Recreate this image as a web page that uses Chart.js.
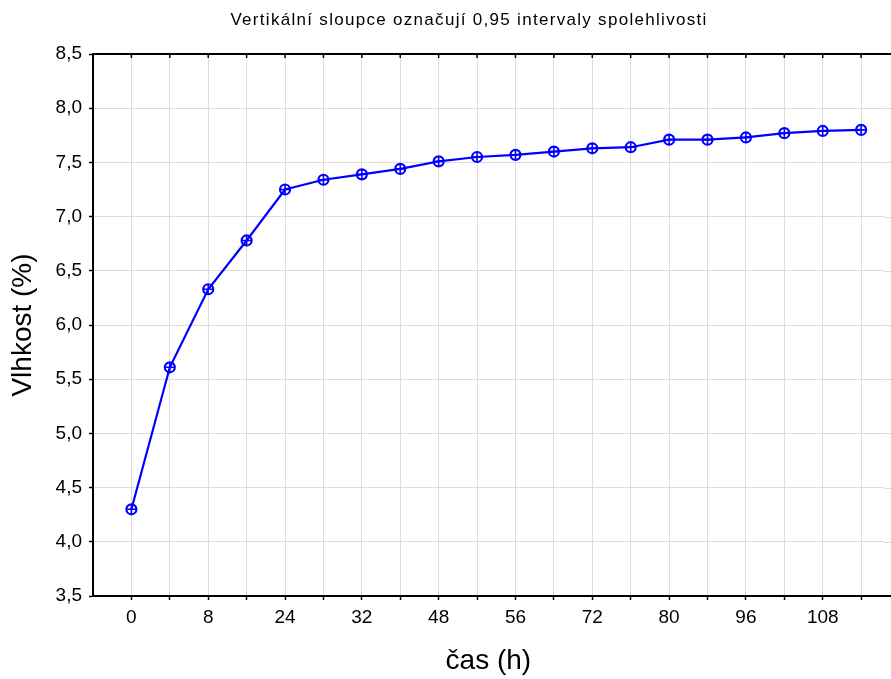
<!DOCTYPE html>
<html>
<head>
<meta charset="utf-8">
<script src="https://cdn.jsdelivr.net/npm/chart.js"></script>
<style>
  body { margin: 0; background: #fff; }
</style>
</head>
<body>
<canvas id="chart" width="891" height="679"></canvas>
<script>
  // x categories (hours), only every second one is labelled
  var hours = ['0', '4', '8', '16', '24', '28', '32', '40', '48', '52', '56', '64', '72', '76', '80', '88', '96', '104', '108', '116'];
  var shownHours = ['0', '8', '24', '32', '48', '56', '72', '80', '96', '108'];
  // mean moisture (%)
  var moisture = [4.30, 5.61, 6.33, 6.78, 7.25, 7.34, 7.39, 7.44, 7.51, 7.55, 7.57, 7.60, 7.63, 7.64, 7.71, 7.71, 7.73, 7.77, 7.79, 7.80];
  var yMin = 3.5, yMax = 8.5, yStep = 0.5;
  var titleText = 'Vertikální sloupce označují 0,95 intervaly spolehlivosti';

  var points = moisture.map(function (v, i) { return { x: i, y: v }; });

  Chart.defaults.font.family = "'Liberation Sans', Arial, sans-serif";
  Chart.defaults.color = '#000';

  // frame lines and grid run on to the right edge, top line has small ticks pointing down; spaced-out title
  var topFrame = {
    id: 'topFrame',
    beforeDatasetsDraw: function (chart) {
      var ctx = chart.ctx, area = chart.chartArea, ys = chart.scales.y;
      ctx.save();
      ctx.strokeStyle = '#dcdcdc';
      ctx.lineWidth = 1;
      ys.ticks.forEach(function (t) {
        var py = Math.round(ys.getPixelForValue(t.value)) + 0.5;
        ctx.beginPath();
        ctx.moveTo(area.right, py);
        ctx.lineTo(chart.width, py);
        ctx.stroke();
      });
      ctx.restore();
    },
    afterDatasetsDraw: function (chart) {
      var ctx = chart.ctx, area = chart.chartArea, xs = chart.scales.x;
      ctx.save();
      ctx.strokeStyle = '#000';
      ctx.lineWidth = 2;
      ctx.beginPath();
      ctx.moveTo(area.left - 1, area.top);
      ctx.lineTo(chart.width, area.top);
      ctx.moveTo(area.right - 1, area.bottom);
      ctx.lineTo(chart.width, area.bottom);
      ctx.stroke();
      ctx.lineWidth = 1.5;
      for (var i = 0; i < hours.length; i++) {
        var px = xs.getPixelForValue(i);
        ctx.beginPath();
        ctx.moveTo(px, area.top);
        ctx.lineTo(px, area.top + 4);
        ctx.stroke();
      }

      ctx.fillStyle = '#000';
      ctx.font = "17px 'Liberation Sans', Arial, sans-serif";
      ctx.letterSpacing = '1.3px';
      ctx.textAlign = 'center';
      ctx.textBaseline = 'middle';
      ctx.fillText(titleText, 469, 20);
      ctx.restore();
    }
  };

  var ctx = document.getElementById('chart').getContext('2d');
  var chart = new Chart(ctx, {
    type: 'scatter',
    data: {
      datasets: [{
        data: points,
        showLine: true,
        borderColor: '#0000ff',
        borderWidth: 2.2,
        pointStyle: 'circle',
        pointRadius: 5,
        pointBorderWidth: 2.2,
        pointBorderColor: '#0000ff',
        pointBackgroundColor: 'rgba(255,255,255,0)'
      }, {
        data: points,
        showLine: false,
        pointStyle: 'cross',
        pointRadius: 5,
        pointBorderWidth: 1.6,
        pointBorderColor: '#0000ff'
      }]
    },
    options: {
      responsive: false,
      animation: false,
      layout: { padding: { top: 54, right: 0, left: 0, bottom: 0 } },
      plugins: {
        legend: { display: false },
        tooltip: { enabled: false },
        title: { display: false }
      },
      scales: {
        x: {
          type: 'linear',
          min: -1,
          max: 19.59,
          afterBuildTicks: function (scale) {
            scale.ticks = hours.map(function (h, i) { return { value: i }; });
          },
          afterFit: function (scale) { scale.height = 83; },
          ticks: {
            font: { size: 19 },
            padding: 6,
            maxRotation: 0,
            autoSkip: false,
            callback: function (value) {
              var h = hours[value];
              return shownHours.indexOf(h) >= 0 ? h : '';
            }
          },
          grid: { color: '#dcdcdc', lineWidth: 1, tickColor: '#000', tickLength: 4, tickWidth: 1.5 },
          border: { color: '#000', width: 2 },
          title: { display: true, text: 'čas (h)', font: { size: 28 }, padding: { top: 0, bottom: 1 } }
        },
        y: {
          min: yMin,
          max: yMax,
          afterFit: function (scale) { scale.width = 93; },
          ticks: {
            stepSize: yStep,
            font: { size: 19 },
            padding: 7,
            callback: function (value) { return value.toFixed(1).replace('.', ','); }
          },
          grid: { color: '#dcdcdc', lineWidth: 1, tickColor: '#000', tickLength: 4, tickWidth: 1.5 },
          border: { color: '#000', width: 2 },
          title: { display: true, text: 'Vlhkost (%)', font: { size: 28 }, padding: { top: 6, bottom: 0 } }
        }
      }
    },
    plugins: [topFrame]
  });
</script>
</body>
</html>
